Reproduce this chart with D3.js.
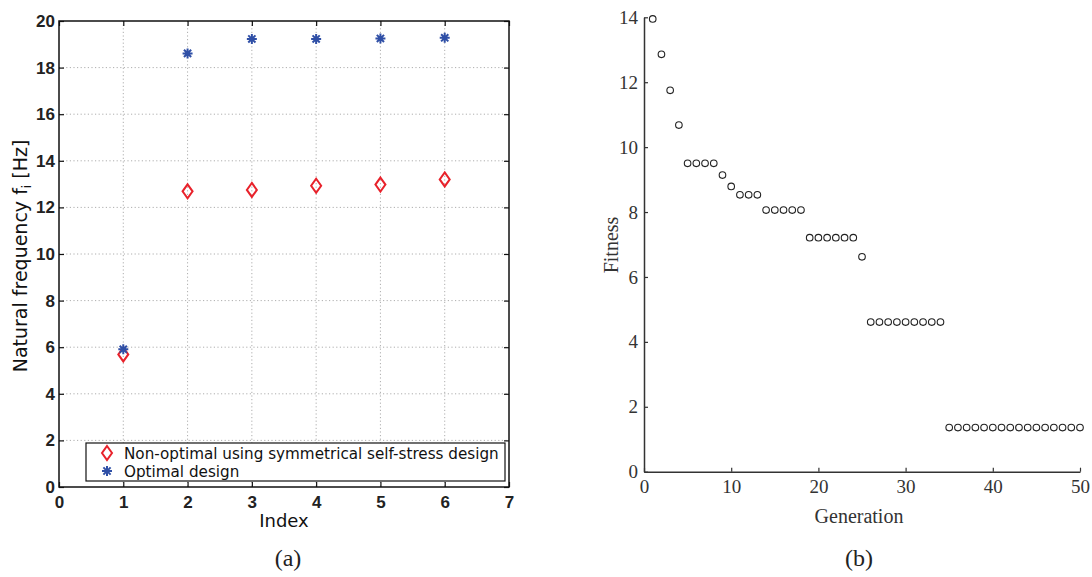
<!DOCTYPE html>
<html>
<head>
<meta charset="utf-8">
<script src="https://cdn.jsdelivr.net/npm/d3@7"></script>
<style>
  body { margin: 0; background: #fff; }
  svg { display: block; }
</style>
</head>
<body>
<svg id="chart" width="1092" height="577"></svg>
<script>
// ---- data, panel (a)
const modeIndex = [1, 2, 3, 4, 5, 6];
const nonOptimal = [5.69, 12.69, 12.75, 12.93, 12.98, 13.2];
const optimal = [5.91, 18.61, 19.23, 19.23, 19.25, 19.28];
const legendLabels = ['Non-optimal using symmetrical self-stress design', 'Optimal design'];
const xTicksA = [0, 1, 2, 3, 4, 5, 6, 7];
const yTicksA = [0, 2, 4, 6, 8, 10, 12, 14, 16, 18, 20];

// ---- data, panel (b)
const generation = d3.range(1, 51);
const fitness = [
  13.95, 12.86, 11.75, 10.68, 9.5, 9.5, 9.5, 9.5, 9.14, 8.79,
  8.53, 8.53, 8.53, 8.06, 8.06, 8.06, 8.06, 8.06, 7.21, 7.21,
  7.21, 7.21, 7.21, 7.21, 6.62, 4.61, 4.61, 4.61, 4.61, 4.61,
  4.61, 4.61, 4.61, 4.61, 1.36, 1.36, 1.36, 1.36, 1.36, 1.36,
  1.36, 1.36, 1.36, 1.36, 1.36, 1.36, 1.36, 1.36, 1.36, 1.36
];
const xTicksB = [0, 10, 20, 30, 40, 50];
const yTicksB = [0, 2, 4, 6, 8, 10, 12, 14];

const svg = d3.select('#chart');

///////////////////////////////////////////////////
// Panel (a)
///////////////////////////////////////////////////
const A = { left: 59, right: 509, top: 21, bottom: 487 };
const xA = d3.scaleLinear().domain([0, 7]).range([A.left, A.right]);
const yA = d3.scaleLinear().domain([0, 20]).range([A.bottom, A.top]);
const gA = svg.append('g');

// dotted grid
gA.selectAll('.vgrid').data(xTicksA.slice(1, -1)).join('line')
  .attr('x1', d => xA(d)).attr('x2', d => xA(d))
  .attr('y1', A.top).attr('y2', A.bottom)
  .attr('stroke', '#999').attr('stroke-width', 0.8).attr('stroke-dasharray', '1.2,2.4');
gA.selectAll('.hgrid').data(yTicksA.slice(1, -1)).join('line')
  .attr('x1', A.left).attr('x2', A.right)
  .attr('y1', d => yA(d)).attr('y2', d => yA(d))
  .attr('stroke', '#999').attr('stroke-width', 0.8).attr('stroke-dasharray', '1.2,2.4');

function styleAxisA(g) {
  g.select('.domain').remove();
  g.selectAll('line').attr('stroke', '#111').attr('stroke-width', 1.2);
  g.selectAll('text').attr('font-family', 'Liberation Sans, Arial, sans-serif')
    .attr('font-weight', 'bold').attr('font-size', 17).attr('fill', '#222');
}

const fmt = d3.format('d');
gA.append('g').attr('transform', `translate(0,${A.bottom})`)
  .call(d3.axisBottom(xA).tickValues(xTicksA).tickFormat(fmt).tickSize(-5).tickPadding(9).tickSizeOuter(0))
  .call(styleAxisA);
gA.append('g').attr('transform', `translate(0,${A.top})`)
  .call(d3.axisTop(xA).tickValues(xTicksA).tickSize(-5).tickFormat('').tickSizeOuter(0))
  .call(styleAxisA);
gA.append('g').attr('transform', `translate(${A.left},0)`)
  .call(d3.axisLeft(yA).tickValues(yTicksA).tickFormat(fmt).tickSize(-5).tickPadding(4).tickSizeOuter(0))
  .call(styleAxisA);
gA.append('g').attr('transform', `translate(${A.right},0)`)
  .call(d3.axisRight(yA).tickValues(yTicksA).tickSize(-5).tickFormat('').tickSizeOuter(0))
  .call(styleAxisA);

gA.append('rect')
  .attr('x', A.left).attr('y', A.top)
  .attr('width', A.right - A.left).attr('height', A.bottom - A.top)
  .attr('fill', 'none').attr('stroke', '#111').attr('stroke-width', 1.5);

// marker shapes
const red = '#e8222b';
const blue = '#2f4fa6';
function diamond(sel) {
  sel.append('path').attr('d', 'M0,-7L5,0L0,7L-5,0Z')
    .attr('fill', 'none').attr('stroke', red).attr('stroke-width', 2);
}
function asterisk(sel) {
  sel.append('path')
    .attr('d', 'M-5,0H5M0,-5V5M-3.6,-3.6L3.6,3.6M-3.6,3.6L3.6,-3.6')
    .attr('stroke', blue).attr('stroke-width', 2).attr('fill', 'none');
}

gA.selectAll('.nonopt').data(modeIndex).join('g')
  .attr('transform', (d, i) => `translate(${xA(d)},${yA(nonOptimal[i])})`)
  .call(diamond);
gA.selectAll('.opt').data(modeIndex).join('g')
  .attr('transform', (d, i) => `translate(${xA(d)},${yA(optimal[i])})`)
  .call(asterisk);

// legend
const leg = gA.append('g').attr('transform', 'translate(86,443)');
leg.append('rect').attr('width', 419).attr('height', 38)
  .attr('fill', '#fff').attr('stroke', '#111').attr('stroke-width', 1.2);
leg.append('g').attr('transform', 'translate(21,10)').call(diamond);
leg.append('g').attr('transform', 'translate(21,28)').call(asterisk);
leg.selectAll('.lt').data(legendLabels).join('text')
  .attr('x', 38).attr('y', (d, i) => 15.5 + i * 18)
  .attr('font-family', 'DejaVu Sans, sans-serif').attr('font-size', 15.2)
  .attr('fill', '#111')
  .text(d => d);

// axis labels
gA.append('text').attr('x', xA(3.5)).attr('y', 527)
  .attr('text-anchor', 'middle')
  .attr('font-family', 'DejaVu Sans, sans-serif').attr('font-size', 18)
  .attr('fill', '#111').text('Index');

const yLab = gA.append('text')
  .attr('transform', 'translate(27,256) rotate(-90)')
  .attr('text-anchor', 'middle')
  .attr('font-family', 'DejaVu Sans, sans-serif').attr('font-size', 19)
  .attr('fill', '#111');
yLab.append('tspan').text('Natural frequency f');
yLab.append('tspan').attr('dy', 4).attr('font-size', 12).text('i');
yLab.append('tspan').attr('dy', -4).text('  [Hz]');

svg.append('text').attr('x', 288).attr('y', 566)
  .attr('text-anchor', 'middle')
  .attr('font-family', 'Liberation Serif, Times New Roman, serif').attr('font-size', 24)
  .attr('fill', '#222').text('(a)');

///////////////////////////////////////////////////
// Panel (b)
///////////////////////////////////////////////////
const B = { left: 644, right: 1080, top: 17.3, bottom: 471.7 };
const xB = d3.scaleLinear().domain([0, 50]).range([B.left, B.right]);
const yB = d3.scaleLinear().domain([0, 14]).range([B.bottom, B.top]);
const gB = svg.append('g');

function styleAxisB(g) {
  g.select('.domain').attr('stroke', '#333').attr('stroke-width', 1.5);
  g.selectAll('line').attr('stroke', '#333').attr('stroke-width', 1.2);
  g.selectAll('text').attr('font-family', 'Liberation Serif, Times New Roman, serif')
    .attr('font-size', 19).attr('fill', '#333');
}

gB.append('g').attr('transform', `translate(0,${B.bottom})`)
  .call(d3.axisBottom(xB).tickValues(xTicksB).tickSize(-4).tickPadding(8).tickSizeOuter(0))
  .call(styleAxisB);
gB.append('g').attr('transform', `translate(${B.left},0)`)
  .call(d3.axisLeft(yB).tickValues(yTicksB).tickSize(-4).tickPadding(6).tickSizeOuter(0))
  .call(styleAxisB);

gB.selectAll('.fit').data(generation).join('circle')
  .attr('cx', d => xB(d)).attr('cy', (d, i) => yB(fitness[i]))
  .attr('r', 3.3)
  .attr('fill', 'none').attr('stroke', '#222').attr('stroke-width', 1.1);

gB.append('text').attr('x', 859).attr('y', 523)
  .attr('text-anchor', 'middle')
  .attr('font-family', 'Liberation Serif, Times New Roman, serif').attr('font-size', 20)
  .attr('fill', '#333').text('Generation');
gB.append('text')
  .attr('transform', 'translate(618,245) rotate(-90)')
  .attr('text-anchor', 'middle')
  .attr('font-family', 'Liberation Serif, Times New Roman, serif').attr('font-size', 20)
  .attr('fill', '#333').text('Fitness');

svg.append('text').attr('x', 859).attr('y', 566)
  .attr('text-anchor', 'middle')
  .attr('font-family', 'Liberation Serif, Times New Roman, serif').attr('font-size', 24)
  .attr('fill', '#222').text('(b)');
</script>
</body>
</html>
